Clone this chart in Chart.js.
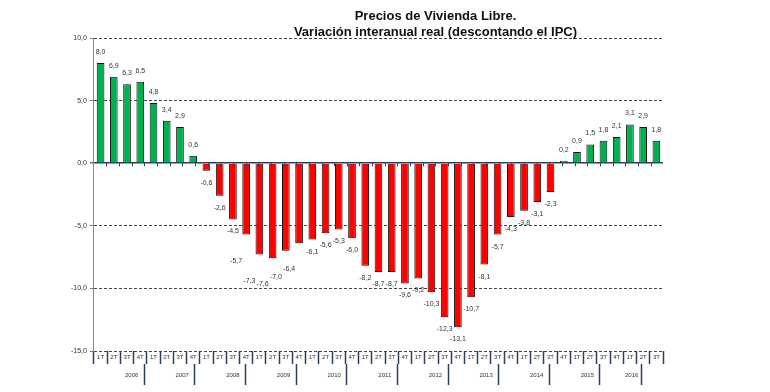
<!DOCTYPE html>
<html><head><meta charset="utf-8">
<script src="https://cdn.jsdelivr.net/npm/chart.js@4.4.1/dist/chart.umd.min.js"></script>
<style>html,body{margin:0;padding:0;background:#fff}#wrap{width:770px;height:392px;position:relative}</style>
</head><body><div id="wrap"><canvas id="c"></canvas></div>
<script>
const years = ['2006','2007','2008','2009','2010','2011','2012','2013','2014','2015','2016'];
const quarters = ['1T','2T','3T','4T'];
const values = [8.0, 6.9, 6.3, 6.5, 4.8, 3.4, 2.9, 0.6,
  -0.6, -2.6, -4.5, -5.7, -7.3, -7.6, -7.0, -6.4,
  -6.1, -5.6, -5.3, -6.0, -8.2, -8.7, -8.7, -9.6,
  -9.2, -10.3, -12.3, -13.1, -10.7, -8.1, -5.7, -4.3,
  -3.8, -3.1, -2.3, 0.2, 0.9, 1.5, 1.8, 2.1,
  3.1, 2.9, 1.8];
const yTicks = [-15, -10, -5, 0, 5, 10];
const titleLines = ['Precios de Vivienda Libre.', 'Variación interanual real (descontando el IPC)'];

const N = values.length;
const categories = [];
for (let i = 0; i < N; i++) categories.push(quarters[i % 4]);

// year boundaries / centers for the lower axis
const boundaries = [];
const centers = {};
for (let k = 0; k * 4 < N; k++) {
  boundaries.push(k * 4 - 0.5);
  const s = k * 4, e = Math.min(k * 4 + 3, N - 1);
  centers[(s + e) / 2] = years[k];
}
boundaries.push(N - 0.5);

const NAVY = '#2c3e5c';
const fmt = v => v.toFixed(1).replace('.', ',');
// manually displaced labels in the original (style only)
const shifted = new Set([11, 12, 13, 14, 15]);

const labelPlugin = {
  id: 'vlabels',
  afterDatasetsDraw(chart) {
    const ctx = chart.ctx;
    const meta = chart.getDatasetMeta(0);
    ctx.save();
    ctx.font = '7px "Liberation Sans", Arial, sans-serif';
    ctx.fillStyle = '#333';
    ctx.textAlign = 'center';
    ctx.textBaseline = 'middle';
    meta.data.forEach((bar, i) => {
      const v = values[i];
      let x = bar.x, y;
      if (v >= 0) y = bar.y - 11;
      else { y = bar.y + 12; if (shifted.has(i)) { x -= 10; y += 14; } }
      ctx.fillText(fmt(v), x, y);
    });
    // small tick marks under the zero line
    const xs = chart.scales.x2, y0 = chart.scales.y.getPixelForValue(0);
    ctx.strokeStyle = NAVY; ctx.lineWidth = 1;
    for (let i = 0; i <= N; i++) {
      const px = Math.round(xs.getPixelForValue(i - 0.5)) + 0.5;
      ctx.beginPath(); ctx.moveTo(px, y0); ctx.lineTo(px, y0 + 3); ctx.stroke();
    }
    ctx.restore();
  }
};
const titlePlugin = {
  id: 'ttl',
  afterDraw(chart) {
    const ctx = chart.ctx, a = chart.chartArea;
    const cx = (a.left + a.right) / 2 + 57;
    ctx.save();
    ctx.font = 'bold 13px "Liberation Sans", Arial, sans-serif';
    ctx.fillStyle = '#111';
    ctx.textAlign = 'center';
    ctx.textBaseline = 'middle';
    ctx.fillText(titleLines[0], cx, 16, 164);
    ctx.fillText(titleLines[1], cx, 32, 284);
    ctx.restore();
  }
};

new Chart(document.getElementById('c'), {
  type: 'bar',
  data: {
    labels: categories,
    datasets: [{
      data: values,
      backgroundColor: values.map(v => v >= 0 ? '#00b050' : '#ff0000'),
      borderColor: '#111',
      borderWidth: 1,
      barPercentage: 0.58,
      categoryPercentage: 1
    }]
  },
  options: {
    responsive: true,
    maintainAspectRatio: false,
    animation: false,
    layout: { padding: { left: 68, right: 107, top: 38, bottom: 8 } },
    plugins: { legend: { display: false }, tooltip: { enabled: false }, title: { display: false } },
    scales: {
      y: {
        min: -15, max: 10,
        afterBuildTicks: s => { s.ticks = yTicks.map(v => ({ value: v })); },
        ticks: { callback: v => fmt(v), font: { size: 7, family: '"Liberation Sans", Arial, sans-serif' }, color: '#333', padding: 3 },
        grid: {
          color: c => c.tick && c.tick.value === 0 ? NAVY : '#444',
          lineWidth: c => c.tick && c.tick.value === 0 ? 1.5 : 1,
          tickColor: '#777', tickLength: 4
        },
        border: { display: true, color: '#8a8a8a', width: 1,
          dash: c => (c.type === 'tick' && c.tick && c.tick.value !== 0) ? [3, 2] : [] }
      },
      x: {
        position: 'bottom',
        afterFit: s => { s.height = 13; },
        ticks: { autoSkip: false, maxRotation: 0, minRotation: 0, padding: -10,
          font: { size: 6, family: '"Liberation Sans", Arial, sans-serif' }, color: '#333' },
        grid: { offset: true, drawOnChartArea: false, tickLength: 13, tickColor: NAVY, tickWidth: 1.5 },
        border: { display: false }
      },
      x2: {
        type: 'linear', position: 'bottom',
        min: -0.5, max: N - 0.5,
        afterFit: s => { s.height = 20; },
        afterBuildTicks: s => {
          const t = boundaries.concat(Object.keys(centers).map(Number)).sort((a, b) => a - b);
          s.ticks = t.map(v => ({ value: v }));
        },
        ticks: { autoSkip: false, maxRotation: 0, minRotation: 0, padding: -13,
          callback: v => centers[v] !== undefined ? centers[v] : '',
          font: { size: 6, family: '"Liberation Sans", Arial, sans-serif' }, color: '#333' },
        grid: { drawOnChartArea: false, tickLength: 21,
          tickColor: c => (c.tick && centers[c.tick.value] === undefined) ? NAVY : 'rgba(0,0,0,0)', tickWidth: 1.5 },
        border: { display: false }
      }
    }
  },
  plugins: [labelPlugin, titlePlugin]
});
</script></body></html>
